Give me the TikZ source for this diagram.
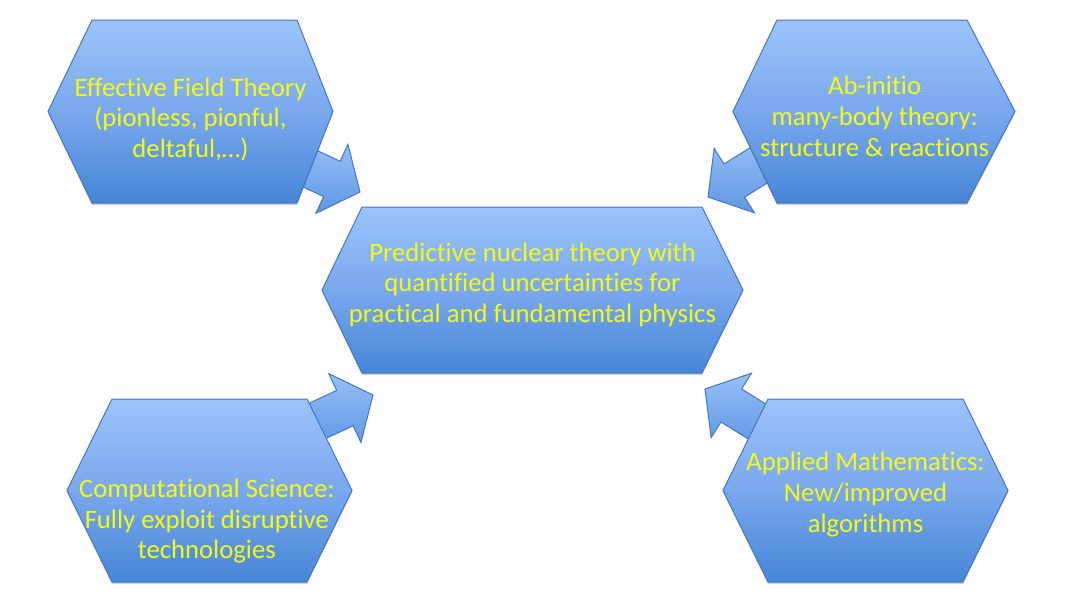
\documentclass[tikz,border=0pt]{standalone}
\usepackage{fontspec}
\setmainfont{Carlito}[Ligatures={NoCommon,NoContextual}]
\usetikzlibrary{shadows}
\definecolor{hexTop}{RGB}{156,196,250}
\definecolor{hexMid}{RGB}{122,168,238}
\definecolor{hexBot}{RGB}{70,134,214}
\definecolor{hexLine}{RGB}{72,118,190}
\definecolor{arrTop}{RGB}{150,192,248}
\definecolor{arrBot}{RGB}{95,150,228}
\definecolor{txtYellow}{RGB}{245,250,20}
\tikzset{
  hexfill/.style={draw=hexLine, line width=0.75pt, top color=hexTop, bottom color=hexBot, middle color=hexMid, line join=miter,
    drop shadow={shadow xshift=0pt, shadow yshift=-1.5pt, opacity=0.18, fill=black}},
  arrfill/.style={draw=hexLine, line width=0.75pt, top color=arrTop, bottom color=arrBot, line join=miter},
  lbl/.style={text=txtYellow, align=center, font=\fontsize{20}{23}\selectfont, inner sep=0pt},
}
% name, left x, inner left x, inner right x, right x, top y, bottom y
\newcommand{\hexshape}[7]{%
  \path[hexfill] (#2,{(#6+#7)/2}) -- (#3,#6) -- (#4,#6) -- (#5,{(#6+#7)/2}) -- (#4,#7) -- (#3,#7) -- cycle;
  \coordinate (#1) at ({(#2+#5)/2},{(#6+#7)/2});
}
% tip coordinate, rotation, length
\newcommand{\blockarrow}[3]{%
  \begin{scope}[shift={(#1)}, rotate=#2]
    \path[arrfill] (0,0) -- (-31,-38) -- (-31,-19.5) -- (-#3,-19.5) -- (-#3,19.5) -- (-31,19.5) -- (-31,38) -- cycle;
  \end{scope}}
\begin{document}
\begin{tikzpicture}[x=0.75pt, y=-0.75pt]
  \useasboundingbox (0,0) rectangle (1068,601);
  % arrow tips
  \coordinate (tipA) at (360,192);
  \coordinate (tipB) at (708,197);
  \coordinate (tipC) at (373,395);
  \coordinate (tipD) at (705,389);
  \blockarrow{tipA}{-25}{75}
  \blockarrow{tipB}{-148}{75}
  \blockarrow{tipC}{25}{80}
  \blockarrow{tipD}{148}{80}
  % hexagons
  \hexshape{eft}{48}{92}{297}{333}{20}{203}
  \hexshape{abi}{733}{777}{967}{1015}{20}{203}
  \hexshape{ctr}{322}{362}{702}{743}{207}{373}
  \hexshape{cmp}{67}{112}{307}{352}{399}{582}
  \hexshape{app}{723}{768}{963}{1008}{399}{582}
  % labels
  \node[lbl] (eftT) at ([yshift=-6pt]eft) {Effective Field Theory\\(pionless, pionful,\\deltaful,…)};
  \node[lbl] (abiT) at ([xshift=0.5pt,yshift=-3.5pt]abi) {Ab-initio\\many-body theory:\\structure \& reactions};
  \node[lbl] (ctrT) at ([yshift=4pt]ctr) {Predictive nuclear theory with\\quantified uncertainties for\\practical and fundamental physics};
  \node[lbl] (cmpT) at ([xshift=-2pt,yshift=-23pt]cmp) {Computational Science:\\Fully exploit disruptive\\technologies};
  \node[lbl] (appT) at ([yshift=-3pt]app) {Applied Mathematics:\\New/improved\\algorithms};
\end{tikzpicture}
\end{document}
